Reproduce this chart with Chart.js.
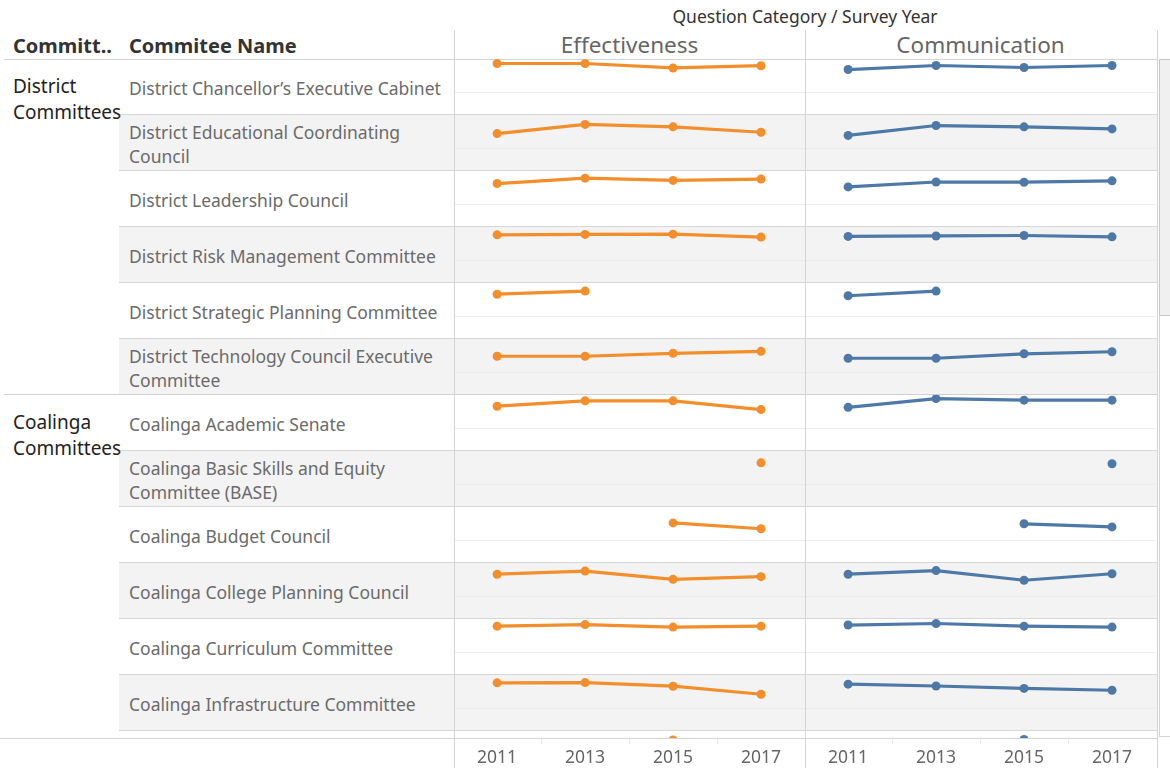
<!DOCTYPE html>
<html>
<head>
<meta charset="utf-8">
<script src="https://cdn.jsdelivr.net/npm/chart.js@4/dist/chart.umd.min.js"></script>
<style>
  body { margin: 0; background: #fff; font-family: "Noto Sans", sans-serif; }
  #page { position: relative; width: 1170px; height: 768px; overflow: hidden; }
  .abs { position: absolute; }
  .vline { position: absolute; width: 1px; background: #d4d4d4; }
  .hline { position: absolute; height: 1px; background: #d4d4d4; }
  .title { left: 555px; top: 4px; width: 500px; text-align: center; font-size: 17.5px; color: #333; }
  .hdr { top: 32px; font-size: 20px; font-weight: bold; color: #333; }
  .colhdr { top: 29px; width: 351px; text-align: center; font-size: 22.5px; color: #666; }
  #rows { position: absolute; left: 0; top: 59px; width: 1157px; height: 679px; overflow: hidden; }
  .band { position: absolute; left: 119px; width: 1038px; height: 56px; border-bottom: 1px solid #d6d6d6; box-sizing: border-box; }
  .band.alt { background: #f3f3f3; }
  .name { position: absolute; left: 129px; width: 318px; height: 56px; padding-top: 2px; box-sizing: border-box;
          display: flex; align-items: center; font-size: 17.5px; line-height: 24px; color: #6b6b6b; }
  .group { position: absolute; left: 13px; width: 100px; font-size: 19px; line-height: 26px; color: #222; }
  canvas { position: absolute; }
</style>
</head>
<body>
<div id="page">
  <div class="abs title">Question Category / Survey Year</div>
  <div class="abs hdr" style="left:13px">Committ..</div>
  <div class="abs hdr" style="left:129px">Commitee Name</div>
  <div class="abs colhdr" style="left:454px">Effectiveness</div>
  <div class="abs colhdr" style="left:805px">Communication</div>
  <div class="hline" style="left:4px; top:59px; width:1153px"></div>
  <div id="rows"></div>
  <div class="hline" style="left:0; top:738px; width:1157px"></div>
  <div class="vline" style="left:454px; top:30px; height:738px"></div>
  <div class="vline" style="left:805px; top:30px; height:738px"></div>
  <div class="vline" style="left:1157px; top:30px; height:738px"></div>
  <div class="abs" style="left:1159px; top:59px; width:11px; height:678px; border-left:1px solid #d4d4d4; border-bottom:1px solid #d4d4d4; box-sizing:border-box"></div>
  <div class="abs" style="left:1159px; top:59px; width:12px; height:257px; background:#f0f0f0; border:1px solid #c8c8c8; box-sizing:border-box"></div>
</div>
<script>
// survey years on the x axis
const years = [2011, 2013, 2015, 2017];
// faint tick marks between the labelled years
const minorYears = [2012, 2014, 2016];

// committee rows, top to bottom
const groups = ["District Committees", "Coalinga Committees"];
const groupOf = [0, 0, 0, 0, 0, 0, 1, 1, 1, 1, 1, 1, 1];
const committees = [
  "District Chancellor\u2019s Executive Cabinet",
  "District Educational Coordinating Council",
  "District Leadership Council",
  "District Risk Management Committee",
  "District Strategic Planning Committee",
  "District Technology Council Executive Committee",
  "Coalinga Academic Senate",
  "Coalinga Basic Skills and Equity Committee (BASE)",
  "Coalinga Budget Council",
  "Coalinga College Planning Council",
  "Coalinga Curriculum Committee",
  "Coalinga Infrastructure Committee",
  "Coalinga Institutional Effectiveness Committee"
];

// average score per year (null = no survey that year)
const effectiveness = [
  [4.30, 4.30, 4.10, 4.20],
  [3.67, 4.08, 3.97, 3.73],
  [3.94, 4.18, 4.08, 4.14],
  [4.15, 4.17, 4.18, 4.05],
  [4.00, 4.14, null, null],
  [3.73, 3.73, 3.86, 3.95],
  [4.00, 4.24, 4.24, 3.85],
  [null, null, null, 3.97],
  [null, null, 3.79, 3.53],
  [4.00, 4.14, 3.77, 3.89],
  [4.18, 4.25, 4.14, 4.18],
  [4.15, 4.16, 4.00, 3.64],
  [null, null, 4.10, null]
];
const communication = [
  [4.03, 4.21, 4.12, 4.21],
  [3.59, 4.03, 3.97, 3.88],
  [3.79, 4.01, 4.00, 4.06],
  [4.08, 4.10, 4.12, 4.06],
  [3.93, 4.14, null, null],
  [3.64, 3.64, 3.84, 3.93],
  [3.95, 4.34, 4.27, 4.27],
  [null, null, null, 3.93],
  [null, null, 3.75, 3.61],
  [4.00, 4.16, 3.73, 4.02],
  [4.23, 4.30, 4.18, 4.14],
  [4.09, 4.01, 3.90, 3.82],
  [null, null, 4.12, null]
];

const ORANGE = '#f28e2b';
const BLUE = '#4e79a7';
const ROW_H = 56;
const PANEL_W = 351;
const xMin = 2010.02, xMax = 2018;
const yMin = 2, yMax = 4.5;

const rowsEl = document.getElementById('rows');

function makeCanvas(parent, left, top, w, h) {
  const c = document.createElement('canvas');
  c.width = w; c.height = h;
  c.style.left = left + 'px';
  c.style.top = top + 'px';
  c.style.width = w + 'px';
  c.style.height = h + 'px';
  parent.appendChild(c);
  return c;
}

// one small line chart per committee / question category
function drawPanel(canvas, values, color) {
  return new Chart(canvas, {
    type: 'line',
    data: {
      datasets: [{
        data: years.map((yr, i) => ({ x: yr, y: values[i] })),
        borderColor: color,
        backgroundColor: color,
        borderWidth: 3.2,
        pointRadius: 4.5,
        pointBorderWidth: 0,
        pointHoverRadius: 4.5,
        clip: false
      }]
    },
    options: {
      responsive: false,
      animation: false,
      events: [],
      layout: { padding: 0, autoPadding: false },
      plugins: { legend: { display: false }, tooltip: { enabled: false } },
      scales: {
        x: { type: 'linear', min: xMin, max: xMax, display: false },
        y: {
          min: yMin, max: yMax,
          afterFit: s => { s.width = 0; },
          ticks: { display: false, stepSize: 1 },
          border: { display: false },
          grid: {
            drawTicks: false,
            color: ctx => (ctx.tick && (ctx.tick.value === 3 || ctx.tick.value === 4)) ? '#ececec' : 'rgba(0,0,0,0)'
          }
        }
      }
    }
  });
}

committees.forEach((name, i) => {
  const top = i * ROW_H;
  const band = document.createElement('div');
  band.className = 'band' + (i % 2 === 1 ? ' alt' : '');
  band.style.top = top + 'px';
  rowsEl.appendChild(band);

  const lbl = document.createElement('div');
  lbl.className = 'name';
  lbl.style.top = top + 'px';
  lbl.textContent = name;
  rowsEl.appendChild(lbl);

  drawPanel(makeCanvas(rowsEl, 454, top, PANEL_W, ROW_H), effectiveness[i], ORANGE);
  drawPanel(makeCanvas(rowsEl, 805, top, PANEL_W, ROW_H), communication[i], BLUE);
});

// group labels and the line between groups
groups.forEach((g, gi) => {
  const first = groupOf.indexOf(gi);
  const el = document.createElement('div');
  el.className = 'group';
  el.style.top = (first * ROW_H + 14) + 'px';
  el.textContent = g;
  rowsEl.appendChild(el);
  if (first > 0) {
    const ln = document.createElement('div');
    ln.className = 'hline';
    ln.style.left = '4px';
    ln.style.width = '1153px';
    ln.style.top = (first * ROW_H - 1) + 'px';
    ln.style.background = '#d0d0d0';
    rowsEl.appendChild(ln);
  }
});

// bottom year axes (canvas is taller than the strip so the axis box is not capped;
// its empty chart area sits transparently over the rows above)
const page = document.getElementById('page');
[454, 805].forEach(left => {
  const c = makeCanvas(page, left, 703, PANEL_W, 68);
  new Chart(c, {
    type: 'line',
    data: { datasets: [] },
    options: {
      responsive: false,
      animation: false,
      events: [],
      layout: { padding: 0, autoPadding: false },
      plugins: { legend: { display: false }, tooltip: { enabled: false } },
      scales: {
        x: {
          type: 'linear', min: xMin, max: xMax, position: 'bottom',
          afterBuildTicks: s => {
            s.ticks = years.concat(minorYears).sort().map(v => ({ value: v }));
          },
          ticks: {
            color: '#666', padding: 4, maxRotation: 0, autoSkip: false,
            font: { family: '"Noto Sans", sans-serif', size: 17.5 },
            callback: v => years.includes(v) ? String(v) : ''
          },
          grid: {
            display: true, drawOnChartArea: false, drawTicks: true, tickLength: 7,
            color: ctx => (ctx.tick && minorYears.includes(ctx.tick.value)) ? '#e4e4e4' : 'rgba(0,0,0,0)'
          },
          border: { display: false }
        },
        y: { display: false }
      }
    }
  });
});
</script>
</body>
</html>
